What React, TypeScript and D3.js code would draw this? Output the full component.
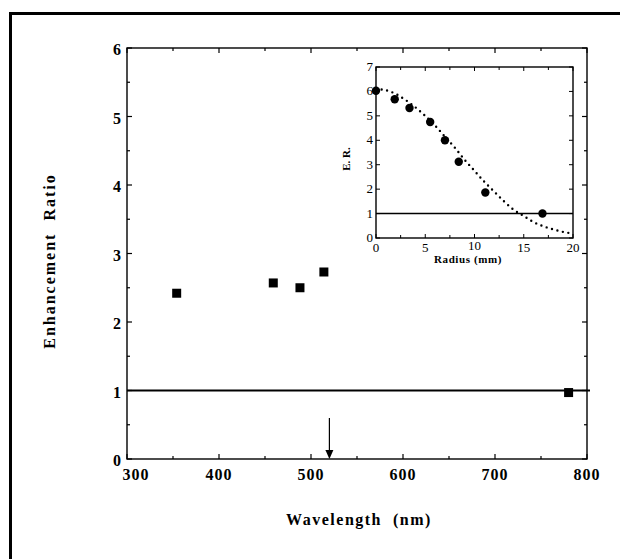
import React from 'react';
import * as d3 from 'd3';

// main panel: enhancement ratio vs wavelength
const wavelengthTicks = [300, 400, 500, 600, 700, 800];
const ratioTicks = [0, 1, 2, 3, 4, 5, 6];
const wavelengthNm = [354, 459, 488, 514, 780];
const enhancementRatio = [2.42, 2.57, 2.5, 2.73, 0.97];
const markedWavelength = 520;

// inset: E.R. vs radius
const radiusTicks = [0, 5, 10, 15, 20];
const erTicks = [0, 1, 2, 3, 4, 5, 6, 7];
const radiusMm = [0, 1.9, 3.4, 5.5, 7, 8.4, 11.1, 16.9];
const erValues = [6.03, 5.68, 5.32, 4.75, 4.0, 3.12, 1.86, 1.0];
const fitRadius = [0, 1, 2, 3, 4, 5, 6, 7, 8, 9, 10, 11, 12, 13, 14, 15, 16, 17, 18, 19, 20];
const fitER = [6.1, 6.05, 5.9, 5.65, 5.35, 5.0, 4.6, 4.15, 3.7, 3.2, 2.75, 2.3, 1.9, 1.5, 1.15, 0.9, 0.65, 0.48, 0.35, 0.25, 0.18];

const W = 620, H = 559;
const font = "'Liberation Serif', 'DejaVu Serif', serif";

const App = () => {
  const x = d3.scaleLinear().domain([300, 800]).range([127, 587]);
  const y = d3.scaleLinear().domain([0, 6]).range([459, 48]);
  const ix = d3.scaleLinear().domain([0, 20]).range([376, 573]);
  const iy = d3.scaleLinear().domain([0, 7]).range([238, 67]);

  const xMinor = d3.range(300, 801, 50);
  const yMinor = d3.range(0, 6.01, 0.5);
  const ixMinor = d3.range(0, 20.01, 2.5);

  const fitLine = d3.line<number>()
    .x((d, i) => ix(fitRadius[i]))
    .y(d => iy(d))
    .curve(d3.curveCatmullRom);

  const [x0, x1] = x.range();
  const [y0, y1] = y.range();
  const [ix0, ix1] = ix.range();
  const [iy0, iy1] = iy.range();

  const arrowX = x(markedWavelength);

  return (
    <svg width={W} height={H} style={{ position: 'absolute', left: 0, top: 0, background: '#fff', fontFamily: font }}>
      {/* page frame */}
      <path d={`M10.5,${H} V13.5 H${W}`} fill="none" stroke="#000" strokeWidth={3} />

      {/* main axes box */}
      <rect x={x0} y={y1} width={x1 - x0} height={y0 - y1} fill="none" stroke="#000" strokeWidth={1.4} />
      {xMinor.map(v => {
        const len = v % 100 === 0 ? 5 : 3;
        return (
          <g key={'xt' + v}>
            <line x1={x(v)} x2={x(v)} y1={y0} y2={y0 - len} stroke="#000" strokeWidth={1.2} />
            <line x1={x(v)} x2={x(v)} y1={y1} y2={y1 + len} stroke="#000" strokeWidth={1.2} />
          </g>
        );
      })}
      {yMinor.map(v => {
        const len = Number.isInteger(v) ? 5 : 3;
        return (
          <g key={'yt' + v}>
            <line x1={x0} x2={x0 + len} y1={y(v)} y2={y(v)} stroke="#000" strokeWidth={1.2} />
            <line x1={x1} x2={x1 - len} y1={y(v)} y2={y(v)} stroke="#000" strokeWidth={1.2} />
          </g>
        );
      })}
      {wavelengthTicks.map((v, i) => (
        <text key={'xl' + v} x={x(v) + (i === 0 ? 9 : 0)} y={y0 + 21} textAnchor="middle" fontSize={16}
          fontWeight="bold" letterSpacing={1}>{v}</text>
      ))}
      {ratioTicks.map(v => (
        <text key={'yl' + v} x={x0 - 6} y={y(v) + 7} textAnchor="end" fontSize={16}
          fontWeight="bold">{v}</text>
      ))}
      <text x={359} y={525} textAnchor="middle" fontSize={16} fontWeight="bold"
        letterSpacing={1.5} style={{ whiteSpace: 'pre' }}>{'Wavelength  (nm)'}</text>
      <text transform={`translate(55,261) rotate(-90)`} textAnchor="middle" fontSize={16}
        fontWeight="bold" letterSpacing={2} style={{ whiteSpace: 'pre' }}>{'Enhancement  Ratio'}</text>

      {/* reference line at ratio 1 */}
      <line x1={x0} x2={x1 + 3} y1={y(1)} y2={y(1)} stroke="#000" strokeWidth={2} />

      {/* arrow marking the wavelength */}
      <line x1={arrowX} x2={arrowX} y1={y(0.6)} y2={y0 - 6} stroke="#000" strokeWidth={1.2} />
      <path d={`M${arrowX - 4},${y0 - 9} L${arrowX + 4},${y0 - 9} L${arrowX},${y0} Z`} fill="#000" />

      {/* data squares */}
      {wavelengthNm.map((w, i) => (
        <rect key={'sq' + i} x={x(w) - 4.5} y={y(enhancementRatio[i]) - 4.5} width={9} height={9} fill="#000" />
      ))}

      {/* inset */}
      <rect x={ix0} y={iy1} width={ix1 - ix0} height={iy0 - iy1} fill="#fff" stroke="#000" strokeWidth={1.4} />
      {ixMinor.map(v => {
        const len = v % 5 === 0 ? 4 : 3;
        return (
          <g key={'ixt' + v}>
            <line x1={ix(v)} x2={ix(v)} y1={iy0} y2={iy0 - len} stroke="#000" strokeWidth={1} />
            <line x1={ix(v)} x2={ix(v)} y1={iy1} y2={iy1 + len} stroke="#000" strokeWidth={1} />
          </g>
        );
      })}
      {erTicks.map(v => (
        <g key={'iyt' + v}>
          <line x1={ix0} x2={ix0 + 4} y1={iy(v)} y2={iy(v)} stroke="#000" strokeWidth={1} />
          <line x1={ix1} x2={ix1 - 4} y1={iy(v)} y2={iy(v)} stroke="#000" strokeWidth={1} />
          <text x={ix0 - 3} y={iy(v) + 4} textAnchor="end" fontSize={13}>{v}</text>
        </g>
      ))}
      {radiusTicks.map(v => (
        <text key={'irl' + v} x={ix(v)} y={v === 10 ? iy0 + 12 : iy0 + 14} textAnchor="middle" fontSize={13}>{v}</text>
      ))}
      <text x={468} y={iy0 + 25} textAnchor="middle" fontSize={11} fontWeight="bold"
        letterSpacing={0.6}>Radius (mm)</text>
      <text transform={`translate(350,159) rotate(-90)`} textAnchor="middle" fontSize={11}
        fontWeight="bold">E. R.</text>

      <line x1={ix0} x2={ix1} y1={iy(1)} y2={iy(1)} stroke="#000" strokeWidth={1.6} />
      <path d={fitLine(fitER) || ''} fill="none" stroke="#000" strokeWidth={2.4}
        strokeDasharray="0 5.6" strokeLinecap="round" />
      {radiusMm.map((r, i) => (
        <circle key={'c' + i} cx={ix(r)} cy={iy(erValues[i])} r={4.2} fill="#000" />
      ))}
    </svg>
  );
};

export default App;
